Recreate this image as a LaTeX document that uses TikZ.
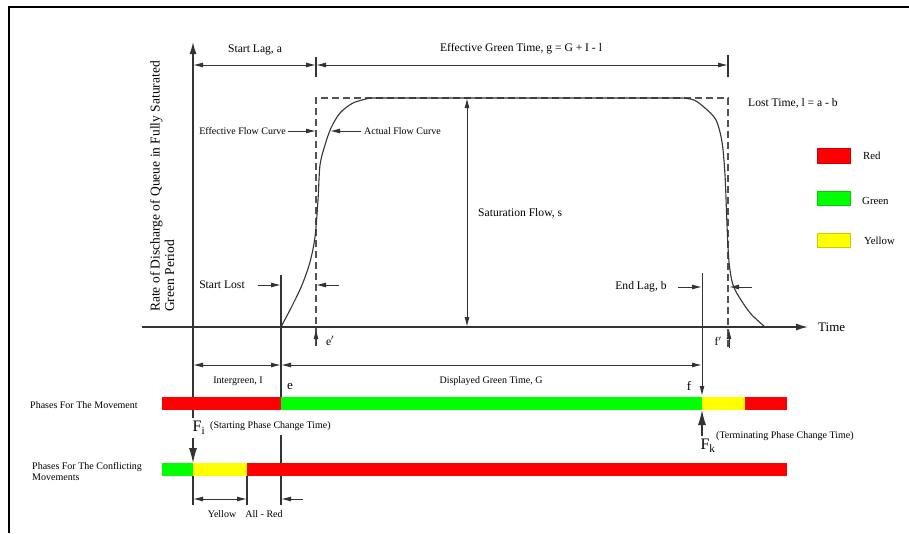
\documentclass[tikz,border=0pt]{standalone}
\usepackage{fontspec}
\setmainfont{Liberation Serif}
\usetikzlibrary{arrows.meta}
\definecolor{sigred}{HTML}{FF0000}
\definecolor{siggreen}{HTML}{00FF00}
\definecolor{sigyellow}{HTML}{FFFF00}
\definecolor{ink}{HTML}{333333}
\begin{document}
\begin{tikzpicture}[x=1pt,y=-1pt,
  ln/.style={draw=ink,line width=1.1pt},
  axisln/.style={draw=ink,line width=1.4pt,-{Latex[length=12pt,width=7pt]}},
  dimline/.style={draw=ink,line width=1pt,{Latex[length=10pt,width=5pt]}-{Latex[length=10pt,width=5pt]}},
  pointer/.style={draw=ink,line width=1pt,-{Latex[length=10pt,width=5pt]}},
  bigarrow/.style={draw=ink,line width=1.1pt,-{Latex[length=15pt,width=8pt]}},
  dashln/.style={draw=ink!85,line width=1.2pt,dash pattern=on 7pt off 4pt},
  lbl/.style={font=\fontsize{11.6}{13}\selectfont,inner sep=0pt},
  sml/.style={font=\fontsize{10}{11.5}\selectfont,inner sep=0pt},
  letter/.style={font=\fontsize{13}{14}\selectfont,inner sep=0pt},
  swatch/.style={line width=0.5pt}
]
\useasboundingbox (0,0) rectangle (909,533);
% frame
\draw[line width=2pt] (9,533) -- (9,7) -- (909,7);

% key coordinates
\coordinate (ytop) at (193,42);
\coordinate (ybreak) at (193,418);
\coordinate (xl) at (142,327);
\coordinate (xr) at (808,327);
\coordinate (a0) at (193,65);
\coordinate (a1) at (316,65);
\coordinate (g1) at (728,65);

% axes
\draw[axisln] (ybreak) -- (ytop);
\draw[axisln] (xl) -- (xr);
\node[font=\fontsize{13}{14}\selectfont,inner sep=0pt,anchor=west] (time) at (818,327) {Time};
\node[font=\fontsize{13.5}{14.5}\selectfont,inner sep=0pt,rotate=90,anchor=north west,align=left] (ylab) at (150,312)
  {Rate of Discharge of Queue in Fully Saturated\\Green Period};

% top dimensions
\draw[ln] (316,57) -- (316,77);
\draw[ln] (728,55) -- (728,77);
\draw[dimline] (a0) -- (a1);
\draw[dimline] (a1) -- (g1);
\node[lbl] (startlag) at (255,50) {Start Lag, a};
\node[lbl] (effgreen) at (521,49) {Effective Green Time, g = G + I - l};

% effective flow (dashed)
\draw[dashln] (316,346) -- (316,98) -- (728,98) -- (728,348);

% actual flow curve
\draw[ln] plot[smooth,tension=0.5] coordinates {(281,327) (292,306) (302,285) (310,262) (315,237) (318,200) (320,165) (325,145) (331,128) (340,113) (353,103) (370,98)} -- (682,98);
\draw[ln] plot[smooth,tension=0.5] coordinates {(682,98) (694,100) (705,108) (716,120) (722,142) (725,175) (727,225) (729,262) (733,285) (741,300) (751,314) (765,327)};

% saturation flow
\draw[dimline] (467,98) -- (467,327);
\node[lbl,anchor=west] (satflow) at (478,213) {Saturation Flow, s};

% curve labels
\node[sml,anchor=east] (effcurve) at (286,131) {Effective Flow Curve};
\coordinate (effpt) at (316,131);
\draw[pointer] (effcurve.east) ++(2,0) -- (effpt);
\node[sml,anchor=west] (actcurve) at (364,131) {Actual Flow Curve};
\coordinate (actpt) at (330,131);
\draw[pointer] (actcurve.west) ++(-3,0) -- (actpt);

\node[lbl,anchor=west] (losttime) at (748,103) {Lost Time, l = a - b};

% start lost
\coordinate (e0) at (281,275);
\coordinate (e1) at (281,410);
\draw[ln] (e0) -- (e1);
\draw[ln] (281,435) -- (281,505);
\draw[pointer] (258,285) -- (281,285);
\draw[pointer] (339,285) -- (316,285);
\node[lbl] (startlost) at (222,285) {Start Lost};

% end lag
\coordinate (f0) at (702,273);
\coordinate (f1) at (702,396);
\draw[pointer] (f0) -- (f1);
\draw[pointer] (678,287) -- (702,287);
\draw[pointer] (752,287) -- (729,287);
\node[lbl] (endlag) at (641,287) {End Lag, b};

% e' and f'
\draw[pointer] (316,346) -- (316,329);
\draw[pointer] (729,348) -- (729,329);
\node[lbl] (ep) at (330,341) {e$'$};
\node[lbl] (fp) at (718,341) {f$'$};

% legend
\fill[sigred,draw=sigred!80!black,swatch] (817,148) rectangle (850,163);
\node[sml,anchor=west,font=\fontsize{10.8}{12}\selectfont] (lred) at (863,156) {Red};
\fill[siggreen,draw=siggreen!80!black,swatch] (817,191) rectangle (850,205);
\node[sml,anchor=west,font=\fontsize{10.8}{12}\selectfont] (lgreen) at (862,201) {Green};
\fill[sigyellow,draw=sigyellow!80!black,swatch] (817,233) rectangle (850,247);
\node[sml,anchor=west,font=\fontsize{10.8}{12}\selectfont] (lyellow) at (864,241) {Yellow};

% intergreen / displayed green
\draw[dimline] (193,365) -- (281,365);
\draw[dimline] (281,365) -- (702,365);
\node[sml] (intergreen) at (238,381) {Intergreen, I};
\node[sml] (dispgreen) at (491,381) {Displayed Green Time, G};
\node[letter] (elab) at (290,386) {e};
\node[letter] (flab) at (689,386) {f};

% movement bar
\fill[sigred] (162,397) rectangle (281,410);
\fill[siggreen] (281,397) rectangle (702,410);
\fill[sigyellow] (702,397) rectangle (745,410);
\fill[sigred] (745,397) rectangle (787,410);
\node[sml,anchor=west] (mov) at (30,405) {Phases For The Movement};

% conflicting bar
\fill[siggreen] (162,463) rectangle (193,476);
\fill[sigyellow] (193,463) rectangle (247,476);
\fill[sigred] (247,463) rectangle (787,476);
\node[sml,anchor=north west,align=left] (conf) at (32,462) {Phases For The Conflicting\\Movements};

% phase change points
\draw[ln] (ybreak) -- (193,410);
\node[font=\fontsize{16}{17}\selectfont,inner sep=0pt] (Fi) at (199,428) {F\textsubscript{i}};
\draw[bigarrow] (193,438) -- (193,463);
\node[sml,anchor=west] (startpc) at (210,426) {(Starting Phase Change Time)};
\draw[bigarrow] (702,436) -- (702,410);
\node[font=\fontsize{16}{17}\selectfont,inner sep=0pt] (Fk) at (708,446) {F\textsubscript{k}};
\node[sml,anchor=west] (termpc) at (716,436) {(Terminating Phase Change Time)};

% yellow / all-red
\draw[ln] (193,476) -- (193,505);
\draw[ln] (247,476) -- (247,505);
\draw[dimline] (193,499) -- (247,499);
\draw[pointer] (303,499) -- (281,499);
\node[sml] (ylw) at (222,514) {Yellow};
\node[sml] (allred) at (264,514) {All - Red};
\end{tikzpicture}
\end{document}
